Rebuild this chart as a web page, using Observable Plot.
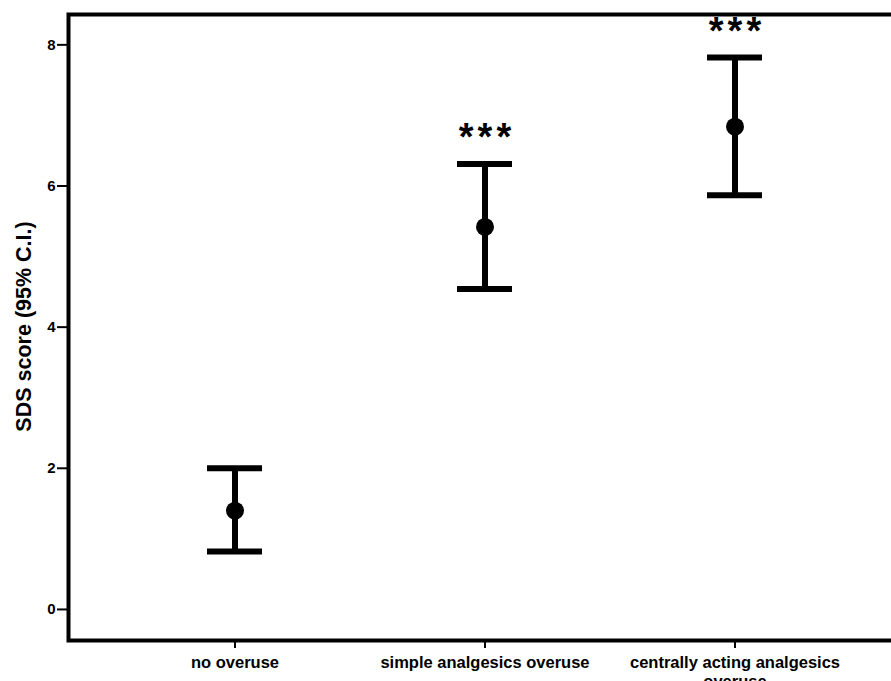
<!DOCTYPE html>
<html>
<head>
<meta charset="utf-8">
<script src="https://cdn.jsdelivr.net/npm/d3@7"></script>
<script src="https://cdn.jsdelivr.net/npm/@observablehq/plot@0.6"></script>
<style>
  html, body { margin: 0; padding: 0; background: #fff; overflow: hidden; }
  #chart svg { display: block; }
</style>
</head>
<body>
<div id="chart"></div>
<script>
const groups = ["no overuse", "simple analgesics overuse", "centrally acting analgesics overuse"];
const groupLabels = ["no overuse", "simple analgesics overuse", "centrally acting analgesics\noveruse"];
const means = [1.40, 5.42, 6.84];
const lower = [0.82, 4.54, 5.87];
const upper = [2.00, 6.31, 7.82];
const significance = ["", "***", "***"];
const yTicks = [0, 2, 4, 6, 8];

const data = groups.map((g, i) => ({group: g, mean: means[i], lo: lower[i], hi: upper[i], sig: significance[i]}));
const labelOf = new Map(groups.map((g, i) => [g, groupLabels[i]]));

const font = "'Liberation Sans', Arial, sans-serif";

const chart = Plot.plot({
  width: 891,
  height: 681,
  marginLeft: 68,
  marginRight: -9,
  marginTop: 14,
  marginBottom: 41,
  style: {fontFamily: font, background: "#fff", color: "#000", overflow: "visible"},
  x: {type: "band", domain: groups, paddingInner: 0.78, paddingOuter: 0.554, label: null},
  y: {domain: [-0.44, 8.43], label: null},
  marks: [
    Plot.frame({stroke: "#000", strokeWidth: 4}),
    Plot.axisY({
      ticks: yTicks, tickSize: 11, tickPadding: 2, strokeWidth: 2,
      fontSize: 15, fontWeight: "bold", label: null
    }),
    Plot.text(["SDS score (95% C.I.)"], {
      frameAnchor: "left", textAnchor: "middle", rotate: -90, dx: -44, dy: -1,
      fontSize: 21.5, fontWeight: "bold", fill: "#000"
    }),
    Plot.axisX({
      tickSize: 8, tickPadding: 7, strokeWidth: 2,
      fontSize: 16.5, fontWeight: "bold", lineHeight: 1.1,
      tickFormat: (d) => labelOf.get(d), label: null
    }),
    Plot.ruleX(data, {x: "group", y1: "lo", y2: "hi", stroke: "#000", strokeWidth: 6}),
    Plot.tickY(data, {x: "group", y: "lo", stroke: "#000", strokeWidth: 6}),
    Plot.tickY(data, {x: "group", y: "hi", stroke: "#000", strokeWidth: 6}),
    Plot.dot(data, {x: "group", y: "mean", r: 9, fill: "#000", stroke: "none"}),
    Plot.text(data, {x: "group", y: "hi", text: "sig", dy: -26, fontSize: 38, fontWeight: "bold", fill: "#000"})
  ]
});
// widen the spacing of the significance asterisks
d3.select(chart).selectAll("text").filter(function () { return this.textContent === "***"; })
  .attr("letter-spacing", "4px").attr("dx", "2px");
document.getElementById("chart").appendChild(chart);
</script>
</body>
</html>
